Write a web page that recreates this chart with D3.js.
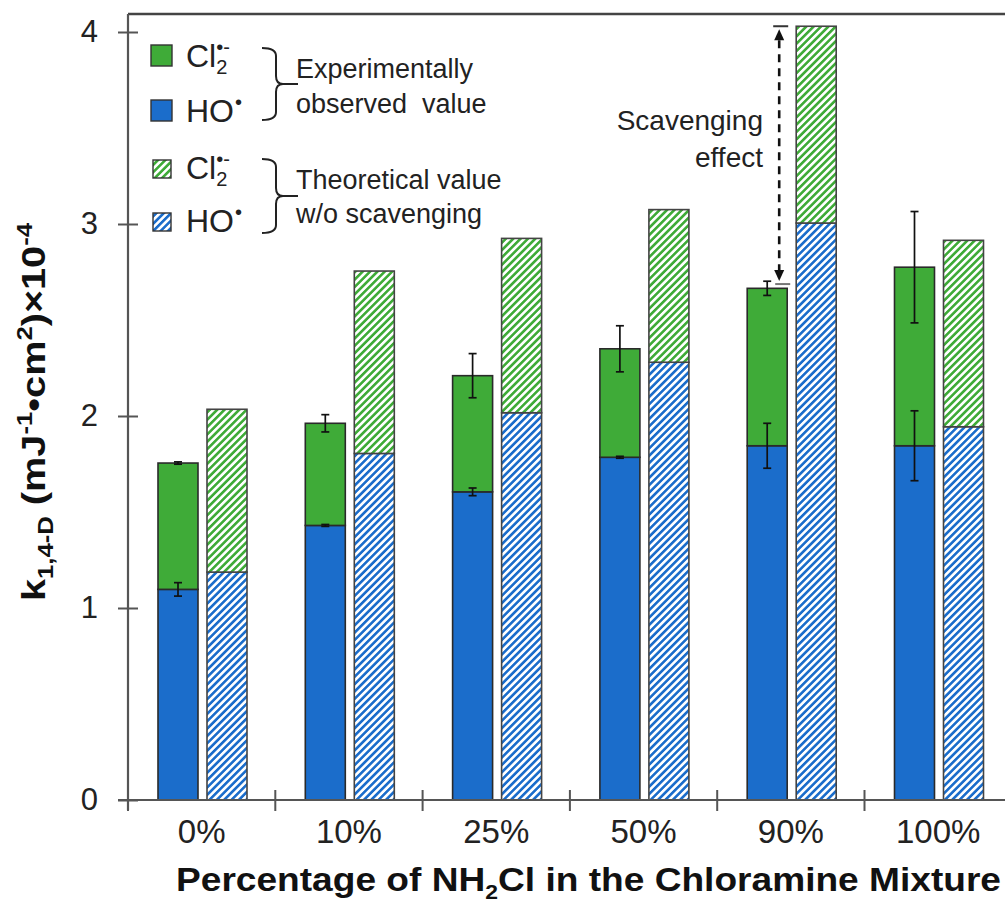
<!DOCTYPE html>
<html><head><meta charset="utf-8">
<script src="https://cdn.jsdelivr.net/npm/d3@7"></script>
<style>
html,body{margin:0;padding:0;background:#fff;}
svg{display:block;font-family:"Liberation Sans",Arial,sans-serif;}
</style></head>
<body>
<svg id="chart" width="1005" height="903"></svg>
<script>
// ---------- data ----------
const categories = ["0%","10%","25%","50%","90%","100%"];
const expHO       = [1.097, 1.430, 1.605, 1.785, 1.845, 1.845];
const expHOErr    = [0.035, 0.005, 0.020, 0.005, 0.117, 0.182];
const expTotal    = [1.755, 1.962, 2.210, 2.350, 2.665, 2.775];
const expTotalErr = [0.006, 0.045, 0.115, 0.120, 0.037, 0.290];
const theoHO      = [1.187, 1.805, 2.017, 2.280, 3.005, 1.944];
const theoTotal   = [2.035, 2.755, 2.925, 3.075, 4.030, 2.915];
const yTicks = [0,1,2,3,4];
const arrowIndex = 4;

const GREEN = "#3fab38", BLUE = "#1b6dcb";

const svg = d3.select("#chart");
const defs = svg.append("defs");
function hatch(id, color){
  const p = defs.append("pattern").attr("id",id).attr("patternUnits","userSpaceOnUse")
    .attr("width",5.2).attr("height",5.2).attr("patternTransform","rotate(45)");
  p.append("rect").attr("width",5.2).attr("height",5.2).attr("fill","#fff");
  p.append("rect").attr("x",0).attr("width",2.6).attr("height",5.2).attr("fill",color);
}
hatch("hGreen", GREEN);
hatch("hBlue", BLUE);

// ---------- scales ----------
const x = d3.scaleBand().domain(categories).range([128, 128 + 6*147.3]).padding(0);
const inner = d3.scaleBand().domain(["exp","theo"]).range([30,119]).paddingInner(0.1837);
const y = d3.scaleLinear().domain([0,4]).range([800,32]);
const yTop = 4.094;

// ---------- frame ----------
svg.append("line").attr("x1",x.range()[0]).attr("x2",x.range()[1])
  .attr("y1",y(yTop)).attr("y2",y(yTop)).attr("stroke","#444").attr("stroke-width",2.6);

// ---------- bars ----------
const g = svg.append("g");
categories.forEach((c,i)=>{
  const xe = x(c)+inner("exp"), xt = x(c)+inner("theo"), bw = inner.bandwidth();
  // experimental stacked
  g.append("rect").attr("x",xe).attr("width",bw).attr("y",y(expHO[i])).attr("height",y(0)-y(expHO[i]))
    .attr("fill",BLUE).attr("stroke","#2a2a2a").attr("stroke-width",1.6);
  g.append("rect").attr("x",xe).attr("width",bw).attr("y",y(expTotal[i])).attr("height",y(expHO[i])-y(expTotal[i]))
    .attr("fill",GREEN).attr("stroke","#2a2a2a").attr("stroke-width",1.6);
  // theoretical stacked hatched
  g.append("rect").attr("x",xt).attr("width",bw).attr("y",y(theoHO[i])).attr("height",y(0)-y(theoHO[i]))
    .attr("fill","url(#hBlue)").attr("stroke","#444").attr("stroke-width",1.6);
  g.append("rect").attr("x",xt).attr("width",bw).attr("y",y(theoTotal[i])).attr("height",y(theoHO[i])-y(theoTotal[i]))
    .attr("fill","url(#hGreen)").attr("stroke","#444").attr("stroke-width",1.6);
  // error bars
  const cx = xe + bw/2;
  [[expHO[i],expHOErr[i]],[expTotal[i],expTotalErr[i]]].forEach(([v,e])=>{
    const eb = g.append("g").attr("stroke","#111").attr("stroke-width",1.7);
    eb.append("line").attr("x1",cx).attr("x2",cx).attr("y1",y(v+e)).attr("y2",y(v-e));
    eb.append("line").attr("x1",cx-4).attr("x2",cx+4).attr("y1",y(v+e)).attr("y2",y(v+e));
    eb.append("line").attr("x1",cx-4).attr("x2",cx+4).attr("y1",y(v-e)).attr("y2",y(v-e));
  });
});

// ---------- axes ----------
const axisColor = "#555";
const yAxisL = svg.append("g").attr("transform","translate(128,0)")
  .call(d3.axisLeft(y).tickValues(yTicks).tickFormat(d3.format("d")).tickSizeInner(10).tickSizeOuter(0).tickPadding(20));
const yAxisR = svg.append("g").attr("transform","translate(128,0)")
  .call(d3.axisRight(y).tickValues(yTicks).tickFormat("").tickSizeInner(10).tickSizeOuter(0));
[yAxisL,yAxisR].forEach(a=>{a.select(".domain").remove(); a.selectAll("line").attr("stroke",axisColor).attr("stroke-width",2);});
yAxisL.selectAll("text").attr("font-size",31).attr("fill","#222").attr("font-family","Liberation Sans, Arial, sans-serif");
svg.append("line").attr("x1",128).attr("x2",128).attr("y1",y(yTop)).attr("y2",810)
  .attr("stroke",axisColor).attr("stroke-width",2.2);

const xAxis = svg.append("g").attr("transform","translate(0,800)")
  .call(d3.axisBottom(x).tickSize(0).tickPadding(19.5));
xAxis.select(".domain").remove();
xAxis.selectAll("text").attr("font-size",33).attr("fill","#222").attr("font-family","Liberation Sans, Arial, sans-serif");
svg.append("line").attr("x1",118).attr("x2",x.range()[1]).attr("y1",800).attr("y2",800)
  .attr("stroke",axisColor).attr("stroke-width",2.2);
const bounds = categories.map(c=>x(c)).concat([x.range()[1]]);
svg.append("g").selectAll("line").data(bounds).join("line")
  .attr("x1",d=>d).attr("x2",d=>d).attr("y1",790).attr("y2",811)
  .attr("stroke",axisColor).attr("stroke-width",2);

// ---------- axis titles ----------
const xt = svg.append("text").attr("x",176).attr("y",891).attr("font-weight","bold")
  .attr("font-size",34).attr("fill","#111").attr("textLength",825).attr("lengthAdjust","spacingAndGlyphs");
xt.append("tspan").text("Percentage of NH");
xt.append("tspan").attr("font-size",21).attr("dy",8).text("2");
xt.append("tspan").attr("dy",-8).text("Cl in the Chloramine Mixture");

const yt = svg.append("text").attr("transform","translate(45,412) rotate(-90)")
  .attr("text-anchor","middle").attr("font-weight","bold").attr("font-size",34).attr("fill","#111")
  .attr("textLength",378).attr("lengthAdjust","spacingAndGlyphs");
yt.append("tspan").text("k");
yt.append("tspan").attr("font-size",22).attr("dy",8).text("1,4-D");
yt.append("tspan").attr("dy",-8).text(" (mJ");
yt.append("tspan").attr("font-size",22).attr("dy",-13).text("-1");
yt.append("tspan").attr("dy",13).text("•cm");
yt.append("tspan").attr("font-size",22).attr("dy",-13).text("2");
yt.append("tspan").attr("dy",13).text(")×10");
yt.append("tspan").attr("font-size",22).attr("dy",-13).text("-4");

// ---------- legend ----------
const leg = svg.append("g");
function label(xp, yp, base, sub, sup){
  const t = leg.append("text").attr("x",xp).attr("y",yp).attr("font-size",32).attr("fill","#222");
  t.append("tspan").text(base);
  let subLen = 0;
  if(sub){
    const s = t.append("tspan").attr("font-size",20).attr("dy",7).text(sub);
    subLen = s.node().getComputedTextLength();
  }
  if(sup){
    t.append("tspan").attr("font-size",20).attr("dx",sub?-subLen:1).attr("dy",sub?-20:-13).text(sup);
  }
}
const legendRows = [
  {yb:67, fill:GREEN, base:"Cl", sub:"2", sup:"•-", hatched:false},
  {yb:122, fill:BLUE, base:"HO", sub:null, sup:"•", hatched:false},
  {yb:179, fill:"url(#hGreen)", base:"Cl", sub:"2", sup:"•-", hatched:true},
  {yb:232, fill:"url(#hBlue)", base:"HO", sub:null, sup:"•", hatched:true}
];
legendRows.forEach(r=>{
  const s = r.hatched ? 18 : 21;
  leg.append("rect").attr("x", r.hatched?153:151).attr("y", r.yb - s - 1).attr("width",s).attr("height",s)
    .attr("fill",r.fill).attr("stroke","#333").attr("stroke-width",1.4);
  label(186, r.yb, r.base, r.sub, r.sup);
});
function brace(y0,y1){
  const xm = 276, xl = 262, xtip = 298, ym = (y0+y1)/2;
  const d = `M${xl},${y0} Q${xm},${y0} ${xm},${y0+8} L${xm},${ym-8} Q${xm},${ym} ${xm+7},${ym} L${xtip},${ym}`
          + ` M${xm+7},${ym} Q${xm},${ym} ${xm},${ym+8} L${xm},${y1-8} Q${xm},${y1} ${xl},${y1}`;
  leg.append("path").attr("d",d).attr("fill","none").attr("stroke","#222").attr("stroke-width",2);
}
brace(48,120);
brace(159,233);
const legText = [["Experimentally",78],["observed  value",113],["Theoretical value",189],["w/o scavenging",223]];
legText.forEach(([t,yb])=>{
  leg.append("text").attr("x",296).attr("y",yb).attr("font-size",27).attr("fill","#222")
    .attr("xml:space","preserve").text(t);
});

// ---------- scavenging annotation ----------
const ax = x(categories[arrowIndex]) + inner("exp") + inner.bandwidth() - 8;
const yA = y(theoTotal[arrowIndex]), yB = y(expTotal[arrowIndex] + expTotalErr[arrowIndex]*0.6);
const ann = svg.append("g");
ann.append("line").attr("x1",ax).attr("x2",ax).attr("y1",yA+14).attr("y2",yB-14)
  .attr("stroke","#111").attr("stroke-width",2.6).attr("stroke-dasharray","8,6");
ann.append("line").attr("x1",ax-6).attr("x2",ax+9).attr("y1",yA).attr("y2",yA).attr("stroke","#333").attr("stroke-width",2);
ann.append("line").attr("x1",ax-4).attr("x2",ax+11).attr("y1",yB).attr("y2",yB).attr("stroke","#777").attr("stroke-width",2);
ann.append("path").attr("d",`M${ax},${yA+3} L${ax-5},${yA+14} L${ax+5},${yA+14} Z`).attr("fill","#111");
ann.append("path").attr("d",`M${ax},${yB-3} L${ax-5},${yB-14} L${ax+5},${yB-14} Z`).attr("fill","#111");
ann.append("text").attr("x",763).attr("y",130).attr("text-anchor","end").attr("font-size",28).attr("fill","#222").text("Scavenging");
ann.append("text").attr("x",763).attr("y",167).attr("text-anchor","end").attr("font-size",28).attr("fill","#222").text("effect");
</script>
</body></html>
